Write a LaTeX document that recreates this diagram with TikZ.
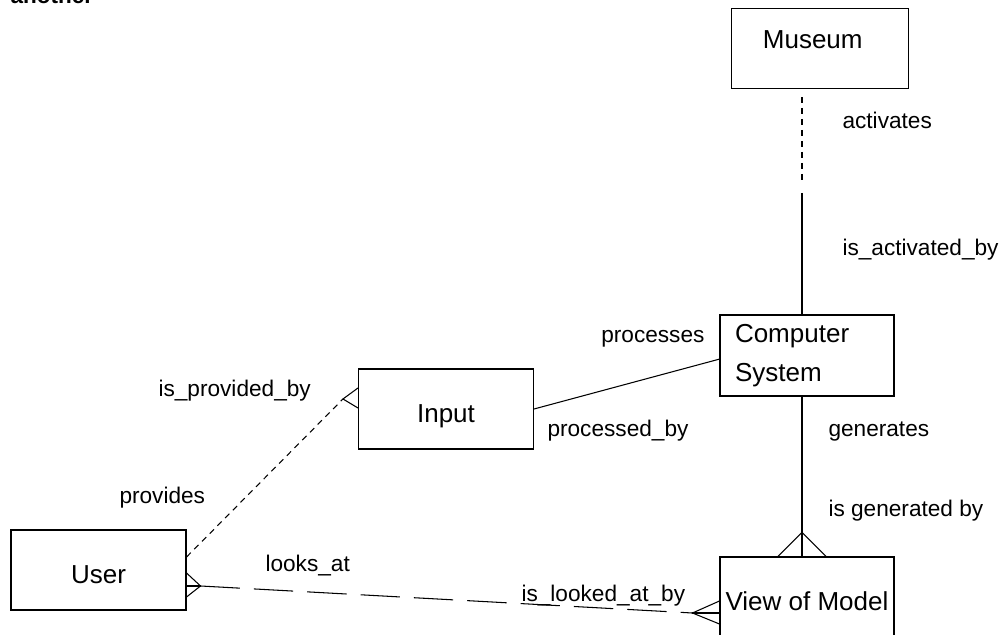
\documentclass[tikz,border=0pt]{standalone}
\usepackage{fontspec}
\setmainfont{Liberation Sans}
\usetikzlibrary{calc}
\newcommand\boxfont{\fontsize{18.5}{27.7}\selectfont}
\newcommand\relfont{\fontsize{16.1}{19}\selectfont}
\newcommand\crowfoot[4]{\draw ($(#1)+(#3)$) -- ($(#1)+(#2)$) -- ($(#1)+(#4)$);}

\begin{document}
\begin{tikzpicture}[line width=0.75pt,
    entity/.style={draw, minimum width=4.375cm, minimum height=2cm, inner sep=0pt,
      text height=0.7cm, text depth=0pt, font=\boxfont},
    rel/.style={anchor=base west, inner sep=0pt, font=\relfont},
    shortdash/.style={dash pattern=on 4.3pt off 3.5pt},
    longdash/.style={dash pattern=on 28pt off 10pt}]
          \useasboundingbox (0, 0) rectangle (25.05, 15.875);
          \node [anchor=base west, inner sep=0pt, font=\bfseries\fontsize{16}{19}\selectfont] (cut) at (0.25, 15.78) {another};

          \node [entity, text width=2.875cm, align=left, inner xsep=0.775cm, text height=0pt] (museum) at (20.51, 14.6625) {Museum};
          \node [draw, font=\boxfont, minimum height=2.025cm, text width=3.6cm, align=left, inner xsep=0.375cm, inner ysep=0pt] (csys) at (20.175, 6.9875) {Computer\\System};
          \node [entity] (input) at (11.15, 5.65) {Input};
          \node [entity] (user) at (2.4625, 1.625) {User};
          \node [entity, minimum width=4.35cm] (view) at (20.175, 0.95) {View of Model};

          \coordinate (spine) at (20.05, 11.175);
          \draw [shortdash] ([yshift=-2mm]spine |- museum.south) -- ([yshift=1.25mm]spine);
          \draw ([yshift=-1.25mm]spine) -- (spine |- csys.north);
          \draw (input.east) -- ([yshift=-0.9mm]csys.west);
          \draw (spine |- csys.south) -- (spine |- view.north);
          \coordinate (vtop) at (spine |- view.north);
          \crowfoot{vtop}{0,0.6}{-0.6,0}{0.6,0}

          \draw [shortdash] ([yshift=3.25mm]user.east) -- ($(input.west)+(-0.375,0.25)$);
          \crowfoot{input.west}{-0.375,0.25}{0,0.525}{0,0.025}

          \draw [longdash] ($(user.east)+(0.35,-0.4)$) -- ($(view.west)+(-0.675,-0.4)$);
          \draw ([yshift=-4mm]user.east) -- +(0.35, 0);
          \crowfoot{user.east}{0.35,-0.4}{0,-0.075}{0,-0.675}
          \draw ([yshift=-4mm]view.west) -- +(-0.675, 0);
          \crowfoot{view.west}{-0.675,-0.4}{0,-0.1}{0,-0.675}

          \node [rel] (activates) at (21.05, 12.65) {activates};
          \node [rel] (isactivated) at (21.05, 9.475) {is\_activated\_by};
          \node [rel, anchor=base east] (processes) at (17.625, 7.3) {processes};
          \node [rel] (processedby) at (13.675, 4.95) {processed\_by};
          \node [rel] (generates) at (20.7, 4.95) {generates};
          \node [rel] (isgenerated) at (20.7, 2.95) {is generated by};
          \node [rel] (isprovided) at (3.95, 5.95) {is\_provided\_by};
          \node [rel] (provides) at (2.975, 3.275) {provides};
          \node [rel] (looksat) at (6.625, 1.575) {looks\_at};
          \node [rel] (islooked) at (13.025, 0.825) {is\_looked\_at\_by};
        \end{tikzpicture}
\end{document}
